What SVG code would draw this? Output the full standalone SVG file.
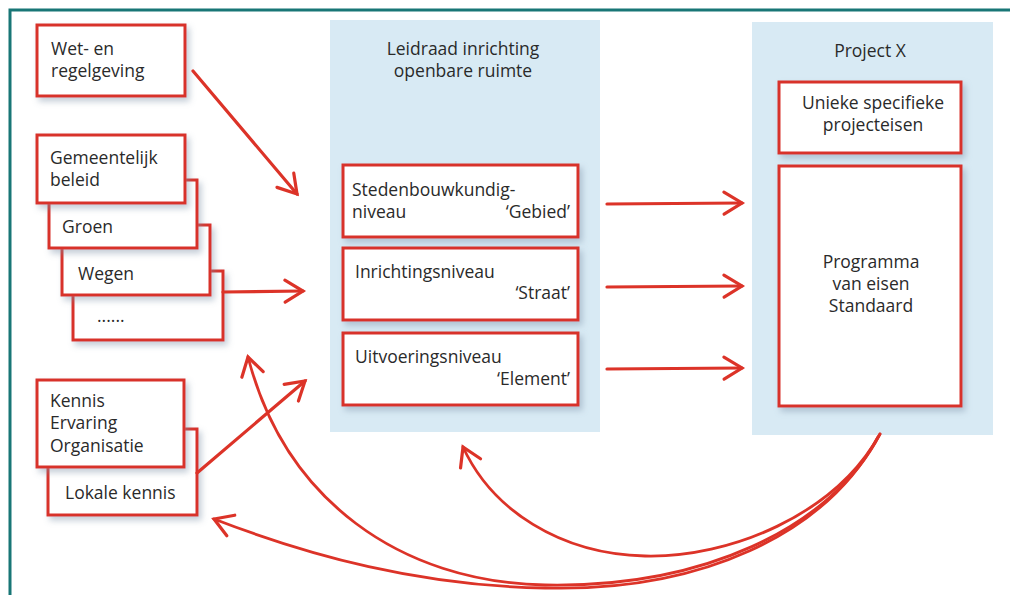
<svg xmlns="http://www.w3.org/2000/svg" width="1010" height="595" viewBox="0 0 1010 595">
<defs>
<style>
.t{font-family:"Open Sans","Liberation Sans",sans-serif;font-size:17.5px;fill:#2a2a2a}
.c{text-anchor:middle}
.r{text-anchor:end}
.box{fill:#fff;stroke:#d8302b;stroke-width:3;filter:url(#sh)}
.panel{fill:#d8eaf4}
.ar{fill:none;stroke:#dc3328;stroke-width:3.2;stroke-linecap:round;stroke-linejoin:round}
.cv{fill:none;stroke:#dc3328;stroke-width:2.8;stroke-linecap:round}
</style>
<filter id="sh" x="-10%" y="-10%" width="130%" height="140%">
<feDropShadow dx="3" dy="4" stdDeviation="3" flood-color="#7d8fa6" flood-opacity="0.45"/>
</filter>
<marker id="ah" viewBox="-22 -14 26 28" refX="0" refY="0" markerWidth="26" markerHeight="28" markerUnits="userSpaceOnUse" orient="auto">
<path d="M-18,-11 L0,0 L-18,11" fill="none" stroke="#dc3328" stroke-width="3.2" stroke-linecap="round" stroke-linejoin="miter"/>
</marker>
</defs>
<rect width="1010" height="595" fill="#fff"/>
<rect x="10" y="10" width="1010" height="600" fill="none" stroke="#187676" stroke-width="3"/>

<g id="panel-leidraad">
<rect class="panel" x="330" y="20" width="270" height="412"/>
<text class="t c" x="463" y="55">Leidraad inrichting</text>
<text class="t c" x="463" y="77">openbare ruimte</text>
</g>
<g id="panel-project">
<rect class="panel" x="752" y="22" width="241" height="413"/>
<text class="t c" x="870" y="57">Project X</text>
</g>

<g id="n-wet">
<rect class="box" x="37" y="25" width="148" height="71"/>
<text class="t" x="51" y="55">Wet- en</text>
<text class="t" x="51" y="77">regelgeving</text>
</g>
<g id="n-dots">
<rect class="box" x="73" y="271" width="150" height="69"/>
<text class="t" x="97" y="322">......</text>
</g>
<g id="n-wegen">
<rect class="box" x="62" y="225" width="148" height="70"/>
<text class="t" x="78" y="280">Wegen</text>
</g>
<g id="n-groen">
<rect class="box" x="49" y="180" width="148" height="68"/>
<text class="t" x="62" y="233">Groen</text>
</g>
<g id="n-gemeente">
<rect class="box" x="37" y="135" width="148" height="68"/>
<text class="t" x="50" y="164">Gemeentelijk</text>
<text class="t" x="50" y="186">beleid</text>
</g>
<g id="n-lokaal">
<rect class="box" x="48" y="429" width="149" height="86"/>
<text class="t" x="65" y="499">Lokale kennis</text>
</g>
<g id="n-kennis">
<rect class="box" x="37" y="380" width="147" height="87"/>
<text class="t" x="50" y="407">Kennis</text>
<text class="t" x="50" y="429">Ervaring</text>
<text class="t" x="50" y="452">Organisatie</text>
</g>

<g id="n-steden">
<rect class="box" x="343" y="165" width="235" height="72"/>
<text class="t" x="352" y="196">Stedenbouwkundig-</text>
<text class="t" x="352" y="218">niveau</text>
<text class="t r" x="570" y="218">‘Gebied’</text>
</g>
<g id="n-inrichting">
<rect class="box" x="343" y="248" width="235" height="72"/>
<text class="t" x="355" y="278">Inrichtingsniveau</text>
<text class="t r" x="570" y="299">‘Straat’</text>
</g>
<g id="n-uitvoering">
<rect class="box" x="343" y="333" width="235" height="72"/>
<text class="t" x="355" y="363">Uitvoeringsniveau</text>
<text class="t r" x="570" y="385">‘Element’</text>
</g>

<g id="n-unieke">
<rect class="box" x="779" y="82" width="182" height="71"/>
<text class="t c" x="873" y="109">Unieke specifieke</text>
<text class="t c" x="873" y="131">projecteisen</text>
</g>
<g id="n-programma">
<rect class="box" x="779" y="166" width="182" height="240"/>
<text class="t c" x="871" y="268">Programma</text>
<text class="t c" x="871" y="290">van eisen</text>
<text class="t c" x="871" y="312">Standaard</text>
</g>

<g id="connectors">
<path class="ar" d="M193,71 L297,194" marker-end="url(#ah)"/>
<path class="ar" d="M223,292 L303,291" marker-end="url(#ah)"/>
<path class="ar" d="M197,473 L305,381" marker-end="url(#ah)"/>
<path class="ar" d="M607,204 L742,203" marker-end="url(#ah)"/>
<path class="ar" d="M607,287 L742,286" marker-end="url(#ah)"/>
<path class="ar" d="M607,369 L742,368" marker-end="url(#ah)"/>
<path class="cv" d="M880,434 C835,515 730,558 645,556 C560,554 492,510 463,447" marker-end="url(#ah)"/>
<path class="cv" d="M880,434 C830,530 700,588 545,585 C400,582 285,500 248,357" marker-end="url(#ah)"/>
<path class="cv" d="M878,437 C825,535 700,592 545,588 C420,586 310,556 214,519" marker-end="url(#ah)"/>
</g>
</svg>
